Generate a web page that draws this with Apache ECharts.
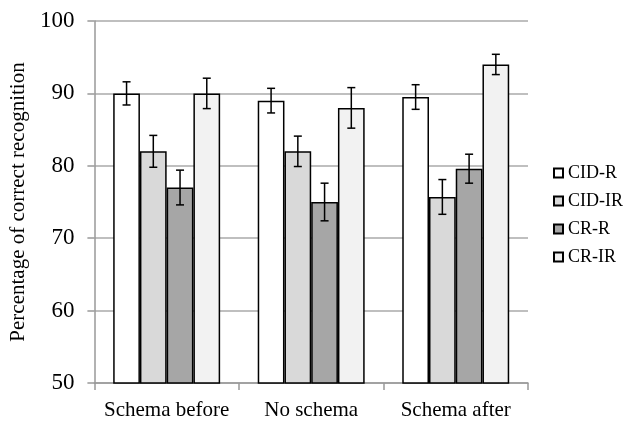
<!DOCTYPE html>
<html>
<head>
<meta charset="utf-8">
<script src="https://cdn.jsdelivr.net/npm/echarts@6/dist/echarts.min.js"></script>
<style>
html,body{margin:0;padding:0;background:#fff;}
#chart{width:624px;height:423px;}
</style>
</head>
<body>
<div id="chart"></div>
<script>
const categories = ['Schema before', 'No schema', 'Schema after'];
const seriesNames = ['CID-R', 'CID-IR', 'CR-R', 'CR-IR'];
const cidR  = [90, 89, 89.5];
const cidIR = [82, 82, 75.7];
const crR   = [77, 75, 79.6];
const crIR  = [90, 88, 94];
const cidRErr  = [1.6, 1.7, 1.7];
const cidIRErr = [2.2, 2.1, 2.4];
const crRErr   = [2.4, 2.6, 2.0];
const crIRErr  = [2.1, 2.8, 1.4];
const yTicks = [50, 60, 70, 80, 90, 100];

const values = [cidR, cidIR, crR, crIR];
const errs = [cidRErr, cidIRErr, crRErr, crIRErr];
const colors = ['#ffffff', '#d9d9d9', '#a6a6a6', '#f2f2f2'];
const FONT = 'Liberation Serif';
const catGap = 0.26;

const errData = [];
values.forEach((vals, s) => {
  vals.forEach((v, c) => {
    errData.push([c, v - errs[s][c], v + errs[s][c], s]);
  });
});

const chart = echarts.init(document.getElementById('chart'), null, {renderer: 'canvas'});
const series = seriesNames.map((name, s) => ({
  name: name,
  type: 'bar',
  data: values[s],
  barGap: '0%',
  barCategoryGap: (catGap * 100) + '%',
  itemStyle: {color: colors[s], borderColor: '#000', borderWidth: 1.5},
  emphasis: {disabled: true},
  z: 2
}));
series.push({
  type: 'custom',
  name: 'err',
  data: errData,
  z: 5,
  silent: true,
  renderItem: function (params, api) {
    const c = api.value(0), lo = api.value(1), hi = api.value(2), s = api.value(3);
    const catW = api.size([1, 0])[0];
    const bw = catW * (1 - catGap) / 4;
    const center = api.coord([c, lo]);
    const x = center[0] + (s - 1.5) * bw;
    const yLo = center[1];
    const yHi = api.coord([c, hi])[1];
    const cap = 4;
    const st = {stroke: '#000', lineWidth: 1.5};
    return {
      type: 'group',
      children: [
        {type: 'line', shape: {x1: x, y1: yLo, x2: x, y2: yHi}, style: st},
        {type: 'line', shape: {x1: x - cap, y1: yLo, x2: x + cap, y2: yLo}, style: st},
        {type: 'line', shape: {x1: x - cap, y1: yHi, x2: x + cap, y2: yHi}, style: st}
      ]
    };
  }
});

chart.setOption({
  animation: false,
  backgroundColor: '#fff',
  grid: {left: 94, right: 96, top: 21, bottom: 40, containLabel: false},
  legend: {
    data: seriesNames,
    orient: 'vertical',
    left: 553,
    top: 164,
    padding: 0,
    itemWidth: 9,
    itemHeight: 9,
    itemGap: 10,
    icon: 'rect',
    textStyle: {fontFamily: FONT, fontSize: 18, lineHeight: 18, color: '#000'},
    selectedMode: false
  },
  xAxis: {
    type: 'category',
    data: categories,
    axisLine: {lineStyle: {color: '#999', width: 1.5}},
    axisTick: {show: true, length: 7, lineStyle: {color: '#999', width: 1.5}},
    axisLabel: {fontFamily: FONT, fontSize: 21, color: '#000', margin: 17, interval: 0, hideOverlap: false}
  },
  yAxis: {
    type: 'value',
    min: yTicks[0],
    max: yTicks[yTicks.length - 1],
    interval: 10,
    name: 'Percentage of correct recognition',
    nameLocation: 'middle',
    nameGap: 56,
    nameTextStyle: {fontFamily: FONT, fontSize: 21, color: '#000'},
    axisLine: {show: true, lineStyle: {color: '#999', width: 1.5}},
    axisTick: {show: true, length: 7, lineStyle: {color: '#999', width: 1.5}},
    axisLabel: {fontFamily: FONT, fontSize: 23, color: '#000', margin: 20},
    splitLine: {lineStyle: {color: '#aaa', width: 1.5}}
  },
  series: series
});
</script>
</body>
</html>
